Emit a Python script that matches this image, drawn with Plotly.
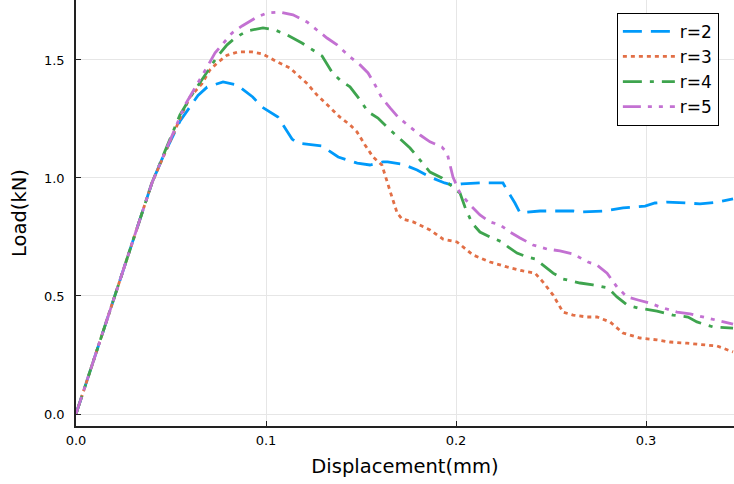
import plotly.graph_objects as go

# r=2
x2 = [0, 0.01, 0.02, 0.03, 0.04, 0.0458, 0.0547, 0.0642, 0.069, 0.0774, 0.0847, 0.093, 0.098, 0.1063, 0.1137, 0.1165,
      0.1295, 0.1325, 0.138, 0.148, 0.1547, 0.1616, 0.164, 0.1716, 0.1795, 0.1863, 0.194, 0.1984, 0.203, 0.2126,
      0.2247, 0.2274, 0.231, 0.2337, 0.2442, 0.253, 0.2616, 0.2653, 0.2774, 0.2879, 0.2958, 0.2995, 0.3047, 0.311,
      0.3216, 0.3284, 0.3379, 0.3458]
y2 = [0, 0.245, 0.49, 0.735, 0.98, 1.09, 1.24, 1.35, 1.385, 1.407, 1.394, 1.343, 1.30, 1.258, 1.165, 1.148,
      1.136, 1.119, 1.089, 1.063, 1.055, 1.068, 1.068, 1.059, 1.034, 1.004, 0.979, 0.970, 0.975, 0.979,
      0.979, 0.941, 0.894, 0.852, 0.860, 0.860, 0.860, 0.856, 0.860, 0.873, 0.877, 0.881, 0.894, 0.898,
      0.894, 0.890, 0.898, 0.911]

# r=3
x3 = [0, 0.01, 0.02, 0.03, 0.04, 0.0563, 0.06, 0.0663, 0.0705, 0.0747, 0.0795, 0.0853, 0.0926, 0.0984, 0.1058,
      0.1126, 0.1216, 0.1268, 0.1337, 0.1389, 0.1442, 0.1479, 0.1521, 0.1563, 0.161, 0.1637, 0.1663, 0.169,
      0.1716, 0.1774, 0.1863, 0.1932, 0.2005, 0.2089, 0.2179, 0.2268, 0.2353, 0.2416, 0.2458, 0.2511, 0.2563,
      0.2616, 0.2689, 0.2742, 0.2811, 0.2879, 0.2968, 0.3058, 0.3126, 0.3216, 0.33, 0.3374, 0.3458]
y3 = [0, 0.245, 0.49, 0.735, 0.98, 1.28, 1.343, 1.40, 1.458, 1.49, 1.52, 1.534, 1.534, 1.525, 1.492,
      1.466, 1.40, 1.352, 1.30, 1.258, 1.225, 1.195, 1.14, 1.089, 1.055, 0.99, 0.919, 0.852,
      0.826, 0.814, 0.78, 0.741, 0.729, 0.674, 0.644, 0.623, 0.606, 0.597, 0.559, 0.504, 0.432,
      0.419, 0.411, 0.411, 0.39, 0.343, 0.322, 0.314, 0.305, 0.30, 0.292, 0.288, 0.263]

# r=4
x4 = [0, 0.01, 0.02, 0.03, 0.04, 0.0547, 0.0616, 0.069, 0.0742, 0.0795, 0.0837, 0.09, 0.0984, 0.1047, 0.1111,
      0.1189, 0.1247, 0.1295, 0.1347, 0.1389, 0.1442, 0.1495, 0.1537, 0.1589, 0.1642, 0.1695, 0.1758, 0.1811,
      0.1863, 0.1926, 0.1984, 0.2021, 0.2047, 0.2084, 0.2126, 0.2179, 0.2242, 0.2274, 0.2321, 0.2374, 0.2416,
      0.2458, 0.2511, 0.2563, 0.2653, 0.2721, 0.28, 0.2847, 0.29, 0.2958, 0.3058, 0.3142, 0.3221, 0.3268,
      0.3353, 0.3458]
y4 = [0, 0.245, 0.49, 0.735, 0.98, 1.267, 1.36, 1.449, 1.513, 1.564, 1.593, 1.623, 1.636, 1.627, 1.606,
      1.572, 1.542, 1.517, 1.449, 1.415, 1.386, 1.331, 1.28, 1.254, 1.212, 1.174, 1.127, 1.076,
      1.025, 1.00, 0.962, 0.936, 0.877, 0.809, 0.771, 0.75, 0.729, 0.708, 0.682, 0.665, 0.657,
      0.631, 0.597, 0.572, 0.555, 0.547, 0.534, 0.496, 0.462, 0.449, 0.436, 0.419, 0.411, 0.39,
      0.369, 0.364]

# r=5
x5 = [0, 0.01, 0.02, 0.03, 0.04, 0.0574, 0.0637, 0.069, 0.0732, 0.0774, 0.0821, 0.0874, 0.0953, 0.1005, 0.1074,
      0.1142, 0.1216, 0.1268, 0.1321, 0.1374, 0.1442, 0.1495, 0.1537, 0.1574, 0.161, 0.1653, 0.1695, 0.1758,
      0.1811, 0.1863, 0.1926, 0.1953, 0.1984, 0.2021, 0.2074, 0.2126, 0.2179, 0.2232, 0.2284, 0.2337, 0.2405,
      0.2479, 0.2547, 0.2616, 0.2695, 0.2742, 0.2795, 0.2847, 0.29, 0.2958, 0.3021, 0.3074, 0.3163, 0.3232,
      0.33, 0.3374, 0.3458]
y5 = [0, 0.245, 0.49, 0.735, 0.98, 1.309, 1.394, 1.47, 1.53, 1.572, 1.614, 1.644, 1.682, 1.699, 1.703,
      1.691, 1.661, 1.627, 1.593, 1.564, 1.513, 1.479, 1.445, 1.394, 1.339, 1.297, 1.258, 1.216,
      1.182, 1.153, 1.131, 1.106, 1.004, 0.936, 0.886, 0.843, 0.814, 0.801, 0.771, 0.746, 0.716,
      0.699, 0.691, 0.678, 0.644, 0.631, 0.597, 0.538, 0.496, 0.483, 0.470, 0.453, 0.432, 0.424,
      0.411, 0.398, 0.381]

names = ["r=2", "r=3", "r=4", "r=5"]
colors = ["#009AFA", "#E26F46", "#3EA44E", "#C371D2"]
dashes = ["19px,9px", "4px,4px", "19px,8px,4px,8px", "18px,7px,4px,7px,4px,7px"]

fig = go.Figure()
for xs, ys, n, c, d in zip([x2, x3, x4, x5], [y2, y3, y4, y5], names, colors, dashes):
    fig.add_trace(go.Scatter(x=xs, y=ys, mode="lines", name=n,
                             line=dict(color=c, width=2.8, dash=d)))

axis_common = dict(showgrid=True, gridcolor="#E6E6E6", gridwidth=1, zeroline=False,
                   showline=True, linecolor="#222222", linewidth=1.5, automargin=False,
                   ticks="inside", ticklen=5, tickcolor="#222222",
                   tickfont=dict(size=13, color="black"), tickformat=".1f")

fig.update_layout(
    width=734, height=484,
    margin=dict(l=76, r=0, t=0, b=58, autoexpand=False),
    paper_bgcolor="white", plot_bgcolor="white",
    font=dict(family="DejaVu Sans", color="black"),
    xaxis=dict(range=[0, 0.3463], tickvals=[0, 0.1, 0.2, 0.3], ticklabelstandoff=2,
               title=dict(text="Displacement(mm)", font=dict(size=19.5), standoff=12), **axis_common),
    yaxis=dict(range=[-0.0508, 1.754], tickvals=[0, 0.5, 1.0, 1.5], ticklabelstandoff=7,
               title=dict(text="Load(kN)", font=dict(size=19.5), standoff=12), **axis_common),
    legend=dict(x=0.977, y=0.97, xanchor="right", yanchor="top",
                bordercolor="black", borderwidth=1, bgcolor="white",
                font=dict(size=17), itemwidth=52, tracegroupgap=0),
)

fig.write_html("out.html", config={"displayModeBar": False},
               post_script="document.body.style.margin='0';")
